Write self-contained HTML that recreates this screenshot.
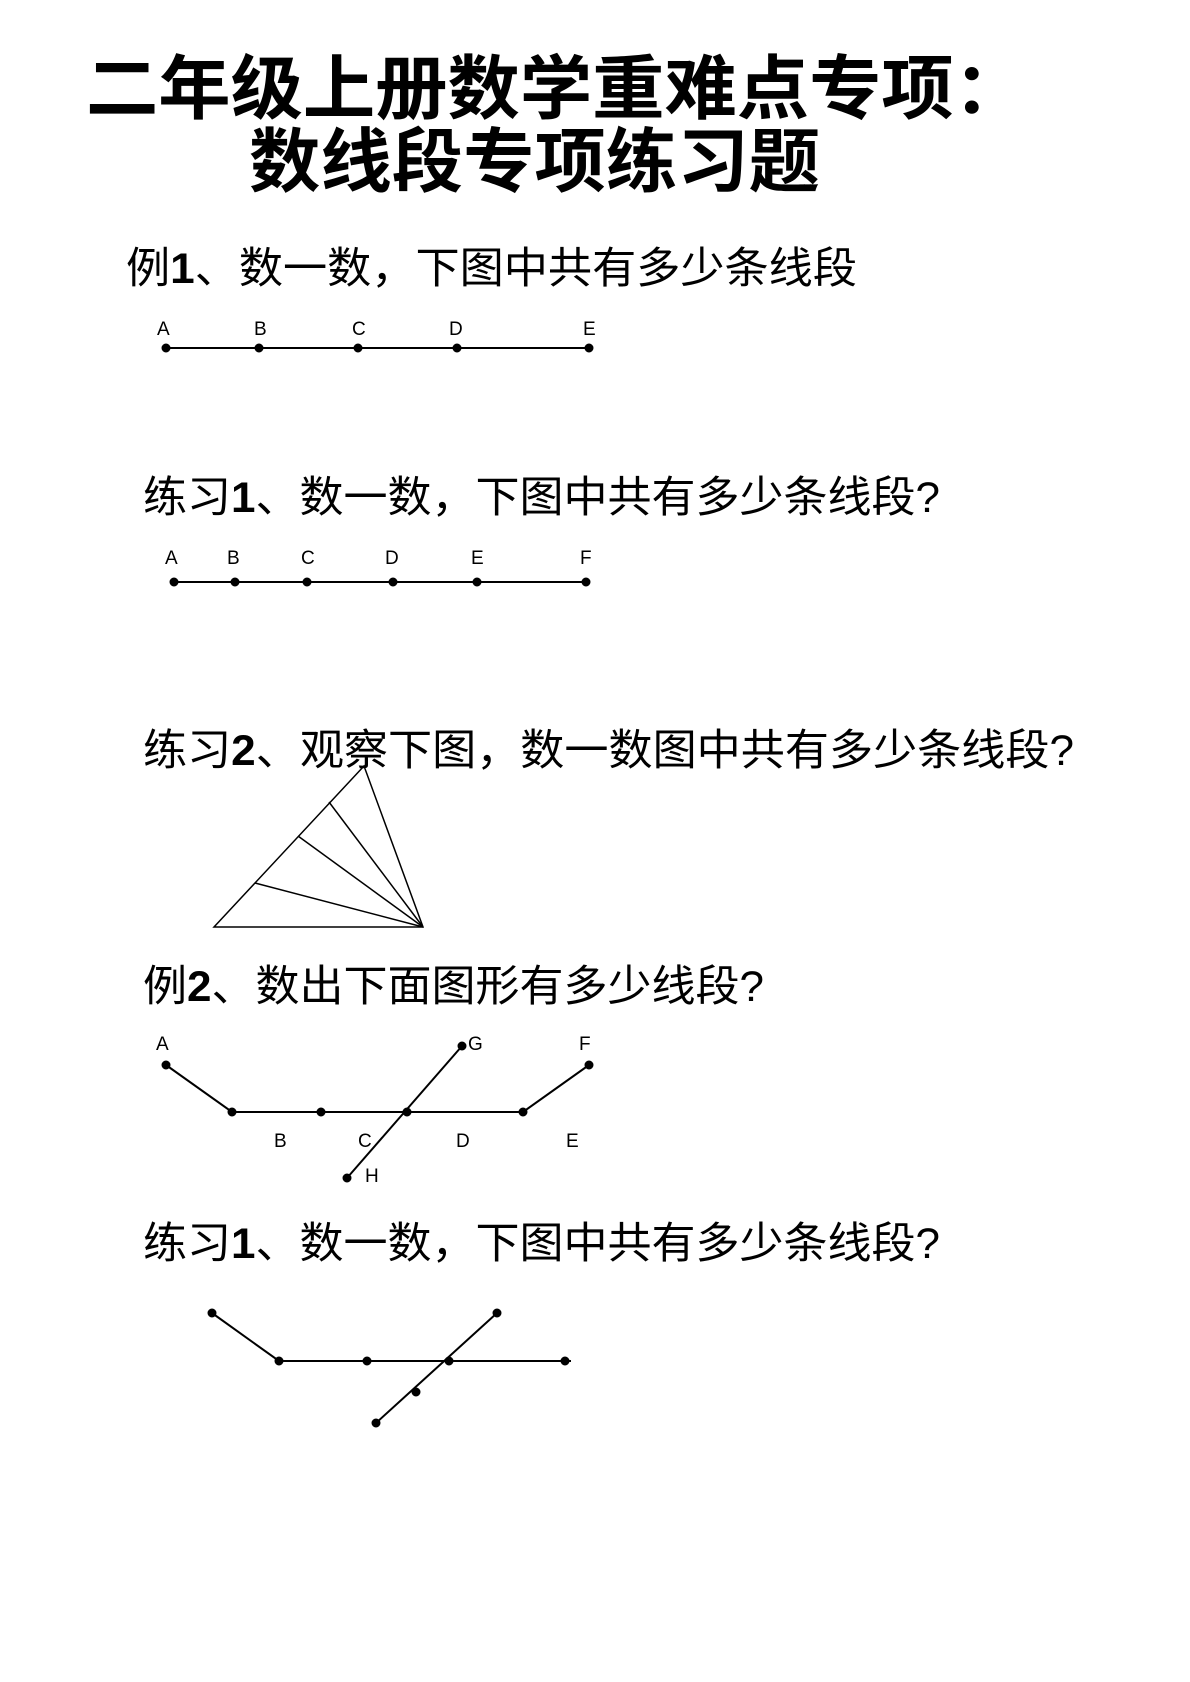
<!DOCTYPE html>
<html><head><meta charset="utf-8"><style>
html,body{margin:0;padding:0;background:#fff;}
svg{display:block;}
.t{font-family:"Liberation Sans","Noto Sans CJK SC",sans-serif;font-weight:bold;font-size:70px;fill:#000;}
.h{font-family:"Liberation Sans","Noto Sans CJK SC",sans-serif;font-size:43px;fill:#000;}
.l{font-family:"Liberation Sans",sans-serif;font-size:19px;fill:#000;}
</style></head><body>
<svg width="1190" height="1682" viewBox="0 0 1190 1682" xmlns="http://www.w3.org/2000/svg">
<text class="t" x="86" y="113" textLength="940" lengthAdjust="spacingAndGlyphs">二年级上册数学重难点专项：</text>
<text class="t" x="249" y="186" textLength="571" lengthAdjust="spacingAndGlyphs">数线段专项练习题</text>

<text class="h" x="126" y="283" textLength="731" lengthAdjust="spacingAndGlyphs">例<tspan font-weight="bold">1</tspan>、数一数，下图中共有多少条线段</text>
<g stroke="#000" stroke-width="2" fill="#000">
<line x1="166" y1="348" x2="589" y2="348"/>
<circle cx="166" cy="348" r="3.5"/><circle cx="259" cy="348" r="3.5"/><circle cx="358" cy="348" r="3.5"/><circle cx="457" cy="348" r="3.5"/><circle cx="589" cy="348" r="3.5"/>
</g>
<g class="l"><text x="157" y="335">A</text><text x="254" y="335">B</text><text x="352" y="335">C</text><text x="449" y="335">D</text><text x="583" y="335">E</text></g>

<text class="h" x="143" y="512" textLength="797" lengthAdjust="spacingAndGlyphs">练习<tspan font-weight="bold">1</tspan>、数一数，下图中共有多少条线段?</text>
<g stroke="#000" stroke-width="2" fill="#000">
<line x1="174" y1="582" x2="586" y2="582"/>
<circle cx="174" cy="582" r="3.5"/><circle cx="235" cy="582" r="3.5"/><circle cx="307" cy="582" r="3.5"/><circle cx="393" cy="582" r="3.5"/><circle cx="477" cy="582" r="3.5"/><circle cx="586" cy="582" r="3.5"/>
</g>
<g class="l"><text x="165" y="564">A</text><text x="227" y="564">B</text><text x="301" y="564">C</text><text x="385" y="564">D</text><text x="471" y="564">E</text><text x="580" y="564">F</text></g>

<text class="h" x="143" y="765" textLength="931" lengthAdjust="spacingAndGlyphs">练习<tspan font-weight="bold">2</tspan>、观察下图，数一数图中共有多少条线段?</text>
<g stroke="#000" stroke-width="1.5" fill="none">
<polygon points="364,766 214,927 423,927"/>
<line x1="423" y1="927" x2="329" y2="802"/>
<line x1="423" y1="927" x2="298" y2="836"/>
<line x1="423" y1="927" x2="255" y2="883"/>
</g>

<text class="h" x="143" y="1001" textLength="621" lengthAdjust="spacingAndGlyphs">例<tspan font-weight="bold">2</tspan>、数出下面图形有多少线段?</text>
<g stroke="#000" stroke-width="2" fill="#000">
<polyline fill="none" points="166,1065 232,1112 523,1112 589,1065"/>
<line x1="462" y1="1046" x2="347" y2="1178"/>
<circle cx="166" cy="1065" r="3.5"/><circle cx="232" cy="1112" r="3.5"/><circle cx="321" cy="1112" r="3.5"/><circle cx="407" cy="1112" r="3.5"/><circle cx="523" cy="1112" r="3.5"/><circle cx="589" cy="1065" r="3.5"/><circle cx="462" cy="1046" r="3.5"/><circle cx="347" cy="1178" r="3.5"/>
</g>
<g class="l"><text x="156" y="1050">A</text><text x="468" y="1050">G</text><text x="579" y="1050">F</text><text x="274" y="1147">B</text><text x="358" y="1147">C</text><text x="456" y="1147">D</text><text x="566" y="1147">E</text><text x="365" y="1182">H</text></g>

<text class="h" x="143" y="1258" textLength="797" lengthAdjust="spacingAndGlyphs">练习<tspan font-weight="bold">1</tspan>、数一数，下图中共有多少条线段?</text>
<g stroke="#000" stroke-width="2" fill="#000">
<polyline fill="none" points="212,1313 279,1361 571,1361"/>
<line x1="497" y1="1313" x2="376" y2="1423"/>
<circle cx="212" cy="1313" r="3.5"/><circle cx="279" cy="1361" r="3.5"/><circle cx="367" cy="1361" r="3.5"/><circle cx="449" cy="1361" r="3.5"/><circle cx="565" cy="1361" r="3.5"/><circle cx="497" cy="1313" r="3.5"/><circle cx="416" cy="1392" r="3.5"/><circle cx="376" cy="1423" r="3.5"/>
</g>
</svg>
</body></html>
